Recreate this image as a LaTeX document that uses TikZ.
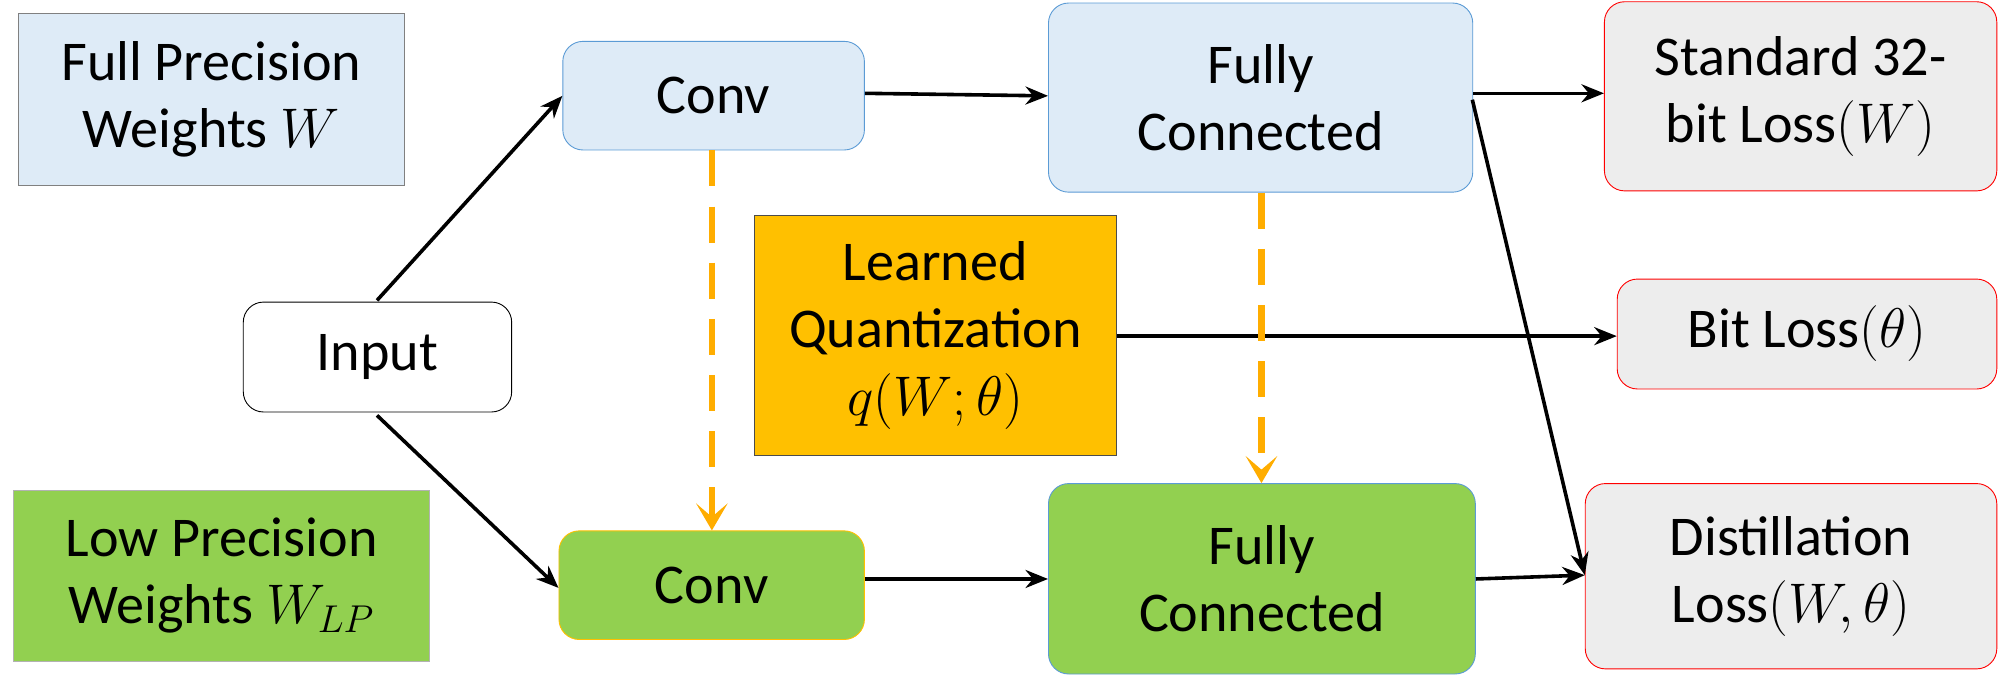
\documentclass[tikz,border=0pt]{standalone}
\usepackage{fontspec}
\setmainfont{Carlito}
\usetikzlibrary{arrows.meta}
\definecolor{lblue}{HTML}{DEEBF7}
\definecolor{bblue}{HTML}{5B9BD5}
\definecolor{lgreen}{HTML}{92D050}
\definecolor{qorange}{HTML}{FFC000}
\definecolor{lgray}{HTML}{EDEDED}
\begin{document}
\begin{tikzpicture}[x=0.02cm,y=-0.02cm,
  box/.style={draw,rounded corners=9pt,align=center,font=\fontsize{25}{30}\selectfont,inner sep=0pt,anchor=north west},
  arr/.style={-{Stealth[length=10pt,width=8pt]},line width=1.6pt},
  qdash/.style={-{Stealth[length=12pt,width=14pt,inset=6pt]},line width=3pt,qorange!90!red,dash pattern=on 16pt off 9pt}]
\useasboundingbox (0,0) rectangle (1568,535);
\node[box,rounded corners=0,fill=lblue,draw=gray,minimum width=302*0.02cm,minimum height=135*0.02cm] (fp) at (14,10) {Full Precision\\Weights $W$};
\node[box,rounded corners=0,fill=lgreen,draw=gray!60,minimum width=326*0.02cm,minimum height=134*0.02cm] (lp) at (10,383) {Low Precision\\Weights $W_{LP}$};
\node[box,fill=white,minimum width=210*0.02cm,minimum height=86*0.02cm] (in) at (190,236) {Input};
\node[box,fill=lblue,draw=bblue,minimum width=236*0.02cm,minimum height=85*0.02cm] (c1) at (440,32) {Conv};
\node[box,fill=lgreen,draw=qorange,minimum width=239*0.02cm,minimum height=85*0.02cm] (c2) at (437,415) {Conv};
\node[box,fill=lblue,draw=bblue,minimum width=332*0.02cm,minimum height=148*0.02cm] (f1) at (820,2) {Fully\\Connected};
\node[box,fill=lgreen,draw=bblue,minimum width=334*0.02cm,minimum height=149*0.02cm] (f2) at (820,378) {Fully\\Connected};
\node[box,rounded corners=0,fill=qorange,draw=black!70,minimum width=283*0.02cm,minimum height=188*0.02cm] (q) at (590,168) {Learned\\Quantization\\$q(W;\theta)$};
\node[box,fill=lgray,draw=red,minimum width=307*0.02cm,minimum height=148*0.02cm] (sl) at (1255,1) {Standard 32-\\bit Loss$(W)$};
\node[box,fill=lgray,draw=red,minimum width=297*0.02cm,minimum height=86*0.02cm] (bl) at (1265,218) {Bit Loss$(\theta)$};
\node[box,fill=lgray,draw=red,minimum width=322*0.02cm,minimum height=145*0.02cm] (dl) at (1240,378) {Distillation\\Loss$(W,\theta)$};
\coordinate (i1) at (295,235); \coordinate (i2) at (295,325);
\coordinate (fo) at (1152,78);
\draw[arr] (i1) -- (c1.west |- 0,75);
\draw[arr] (i2) -- (c2.west |- 0,460);
\draw[arr] (c1.east |- 0,73) -- (f1.west |- 0,75);
\draw[arr] (f1.east |- 0,73) -- (sl.west |- 0,73);
\draw[arr] (fo) -- (dl.west |- 0,450);
\draw[arr] (q.east |- 0,263) -- (bl.west |- 0,263);
\draw[arr] (c2.east |- 0,453) -- (f2.west |- 0,453);
\draw[arr] (f2.east |- 0,453) -- (dl.west |- 0,450);
\draw[qdash] (c1.south -| 557,0) -- (c2.north -| 557,0);
\draw[qdash] (f1.south -| 987,0) -- (f2.north -| 987,0);
\end{tikzpicture}
\end{document}
